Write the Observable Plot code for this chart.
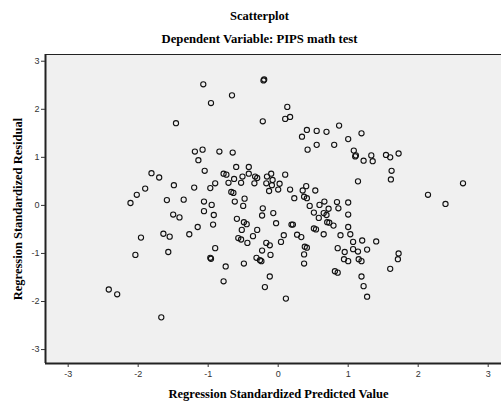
<!DOCTYPE html>
<html>
<head>
<meta charset="utf-8">
<script src="https://cdn.jsdelivr.net/npm/d3@7"></script>
<script src="https://cdn.jsdelivr.net/npm/@observablehq/plot@0.6"></script>
<style>
  html, body { margin: 0; padding: 0; background: #fff; overflow: hidden; }
  #chart { width: 501px; height: 403px; }
</style>
</head>
<body>
<div id="chart"></div>
<script>
const titleText = "Scatterplot";
const subtitleText = "Dependent Variable: PIPS math test";
const xLabel = "Regression Standardized Predicted Value";
const yLabel = "Regression Standardized Residual";
const xTicks = [-3, -2, -1, 0, 1, 2, 3];
const yTicks = [-3, -2, -1, 0, 1, 2, 3];

const predicted = [
  -1.07, -1.46, -1.19, -1.08, -1.14, -1.05, -1.81, -1.70, -1.49, -1.20,
  -1.90, -2.02, -2.11, -1.59, -1.35, -1.06, -1.50, -1.41, -1.06, -1.15,
  -1.27, -1.64, -1.55, -1.96, -2.04, -1.57, -2.42, -2.30, -1.67,
  -0.21, -0.20, -0.66, -0.96, 0.13, 0.17, 0.10, -0.22, 0.87, 0.41,
  0.55, 0.69, 0.34, 1.00, 0.55, 0.80, 0.42, -0.84, -0.65, -0.60,
  -0.42, -0.78, -0.74, -0.63, -0.51, -0.42, -0.33, -0.30, -0.10, -0.16,
  0.10, -0.71, -0.53, -0.34, -0.17, -0.08, 0.02, -0.09, -0.90, -0.97,
  -0.67, -0.64, -0.13, 0.00, 0.17, 0.35, 0.40, 0.53, -0.48, -0.62,
  -0.95, -0.50, -0.22, 0.23, 0.37, 0.41, 0.45, 0.59, 0.66, 0.72,
  0.84, 0.86, 1.00,
  -0.92, -0.93, -0.59, -0.49, -0.45, -0.23, -0.07, -0.03, 0.19, 0.21,
  -0.52, -0.30, -0.36, -0.57, -0.53, -0.44, -0.90, -0.97, -0.96, -0.75,
  -0.78, -0.49, -0.17, -0.12, -0.23, 0.04, 0.08, 0.27, 0.33, -0.31,
  -0.26, -0.24, -0.11, 0.38, 0.41, 0.37, 0.37, -0.12, -0.19, 0.11,
  0.51, 0.58, 0.65, 0.69, 1.00, 0.70, 0.73, 0.79, 0.51, 0.54,
  0.65, 0.89, 1.00, 1.03, 0.85, 0.95, 0.94, 1.00, 0.81, 0.85,
  1.19, 1.08, 1.10, 1.11, 1.22, 1.33, 1.35, 1.54, 1.60, 1.72,
  1.62, 1.61, 1.14, 2.14, 2.39, 2.64, 1.07, 1.20, 1.40, 1.07,
  1.14, 1.27, 1.15, 1.19, 1.72, 1.71, 1.60, 1.19, 1.22, 1.27
];

const residual = [
  2.52, 1.71, 1.12, 1.16, 0.94, 0.72, 0.67, 0.58, 0.42, 0.37,
  0.35, 0.22, 0.05, 0.11, 0.12, 0.08, -0.19, -0.25, -0.12, -0.45,
  -0.60, -0.59, -0.65, -0.67, -1.03, -0.97, -1.75, -1.85, -2.33,
  2.60, 2.62, 2.29, 2.13, 2.05, 1.84, 1.80, 1.75, 1.66, 1.57,
  1.55, 1.53, 1.43, 1.38, 1.26, 1.26, 1.16, 1.12, 1.10, 0.80,
  0.80, 0.66, 0.64, 0.55, 0.60, 0.66, 0.60, 0.57, 0.66, 0.60,
  0.64, 0.47, 0.47, 0.46, 0.46, 0.53, 0.45, 0.42, 0.46, 0.36,
  0.28, 0.26, 0.30, 0.33, 0.33, 0.31, 0.40, 0.31, 0.14, 0.08,
  0.01, -0.01, -0.06, 0.15, 0.18, 0.15, -0.01, 0.01, 0.08, -0.07,
  0.07, -0.06, 0.06,
  -0.20, -0.40, -0.28, -0.35, -0.39, -0.21, -0.16, -0.37, -0.40, -0.40,
  -0.51, -0.51, -0.64, -0.68, -0.71, -0.78, -0.89, -1.09, -1.11, -1.27,
  -1.58, -1.21, -0.78, -0.83, -0.94, -0.76, -0.62, -0.61, -0.66, -1.09,
  -1.14, -1.16, -1.03, -0.86, -0.88, -1.02, -1.21, -1.48, -1.70, -1.94,
  -0.15, -0.26, -0.16, -0.20, -0.19, -0.35, -0.36, -0.42, -0.48, -0.50,
  -0.60, -0.62, -0.45, -0.60, -0.89, -0.97, -1.12, -1.16, -1.37, -1.40,
  1.50, 1.14, 1.02, 1.04, 0.93, 1.04, 0.92, 1.05, 1.00, 1.08,
  0.72, 0.54, 0.50, 0.22, 0.03, 0.46, -0.76, -0.73, -0.75, -0.91,
  -0.96, -0.92, -1.12, -1.16, -1.00, -1.12, -1.32, -1.48, -1.68, -1.90
];

const points = predicted.map((x, i) => ({x, y: residual[i]}));

const serif = "'Liberation Serif', 'Times New Roman', serif";
const sans = "'Liberation Sans', Arial, sans-serif";

const chart = Plot.plot({
  width: 501,
  height: 403,
  marginTop: 54,
  marginBottom: 40,
  marginLeft: 45,
  marginRight: 0,
  style: {background: "#ffffff", fontFamily: sans, fontSize: "9px", color: "#333"},
  x: {domain: [-3.324, 3.19], ticks: xTicks, tickFormat: d => String(d), tickSize: 4, tickPadding: 3, label: null},
  y: {domain: [-3.29, 3.14], ticks: yTicks, tickFormat: d => String(d), tickSize: 4, tickPadding: 2, label: null},
  marks: [
    Plot.rect([0], {x1: -3.324, x2: 3.19, y1: -3.29, y2: 3.14, fill: "#f0f0f0"}),
    Plot.ruleY([3.14], {stroke: "#222", strokeWidth: 1.2}),
    Plot.ruleX([-3.324], {stroke: "#222", strokeWidth: 2}),
    Plot.ruleY([-3.29], {stroke: "#222", strokeWidth: 2}),
    Plot.axisX({ticks: xTicks, tickFormat: d => String(d), tickSize: 4, tickPadding: 3, label: null, stroke: "#333", fill: "#333"}),
    Plot.axisY({ticks: yTicks, tickFormat: d => String(d), tickSize: 4, tickPadding: 2, label: null, stroke: "#333", fill: "#333"}),
    Plot.dot(points, {x: "x", y: "y", r: 2.6, stroke: "#111", strokeWidth: 1.1, fill: "none"}),
    Plot.text([titleText], {frameAnchor: "top", lineAnchor: "middle", textAnchor: "middle", dx: -14, dy: -39, fontFamily: serif, fontWeight: "bold", fontSize: 12.5, fill: "#000"}),
    Plot.text([subtitleText], {frameAnchor: "top", lineAnchor: "middle", textAnchor: "middle", dx: -14, dy: -16, fontFamily: serif, fontWeight: "bold", fontSize: 12.7, fill: "#000"}),
    Plot.text([xLabel], {frameAnchor: "bottom", lineAnchor: "middle", textAnchor: "middle", dx: 5, dy: 30, fontFamily: serif, fontWeight: "bold", fontSize: 12.5, fill: "#000"}),
    Plot.text([yLabel], {frameAnchor: "left", lineAnchor: "middle", textAnchor: "middle", dx: -28, rotate: -90, fontFamily: serif, fontWeight: "bold", fontSize: 12.5, fill: "#000"})
  ]
});
document.getElementById("chart").appendChild(chart);
</script>
</body>
</html>
